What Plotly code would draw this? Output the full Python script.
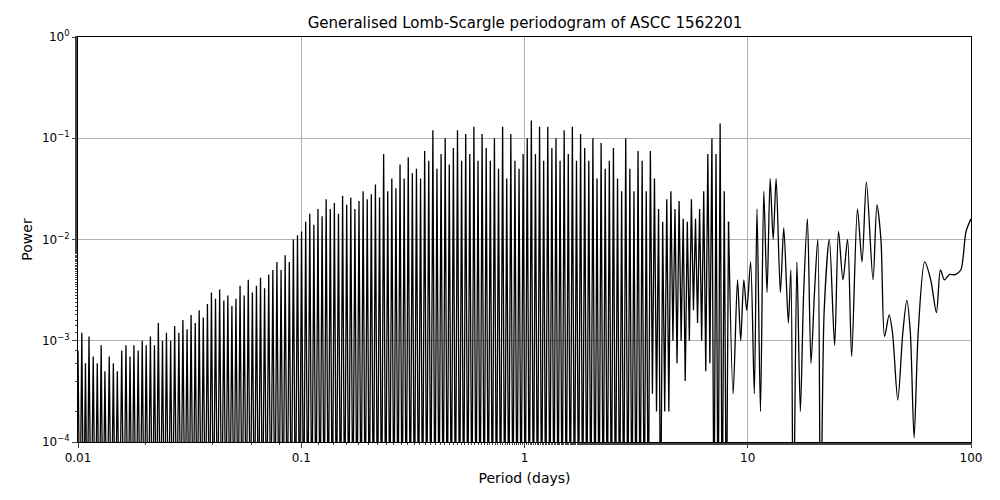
import plotly.graph_objects as go

# dense part: period, local peak, following trough
dense_period = [0.0100, 0.0104, 0.0108, 0.0112, 0.0117, 0.0122, 0.0127, 0.0132, 0.0138, 0.0144,
                0.0150, 0.0157, 0.0164, 0.0171, 0.0178, 0.0186, 0.0194, 0.0202, 0.0211, 0.0220,
                0.0229, 0.0239, 0.0249, 0.0260, 0.0271, 0.0283, 0.0295, 0.0308, 0.0321, 0.0335,
                0.0349, 0.0364, 0.0380, 0.0396, 0.0413, 0.0431, 0.0450, 0.0469, 0.0489, 0.0510,
                0.0532, 0.0555, 0.0579, 0.0604, 0.0630, 0.0657, 0.0685, 0.0715, 0.0746, 0.0778,
                0.0812, 0.0847, 0.0884, 0.0922, 0.0962, 0.1003, 0.1047, 0.1092, 0.1139, 0.1188,
                0.1240, 0.1293, 0.1349, 0.1407, 0.1468, 0.1532, 0.1598, 0.1667, 0.1739, 0.1814,
                0.1893, 0.1975, 0.2060, 0.2149, 0.2242, 0.2339, 0.2440, 0.2545, 0.2655, 0.2770,
                0.2890, 0.3015, 0.3145, 0.3281, 0.3423, 0.3571, 0.3725, 0.3886, 0.4054, 0.4230,
                0.4413, 0.4603, 0.4802, 0.5010, 0.5227, 0.5453, 0.5688, 0.5934, 0.6191, 0.6458,
                0.6737, 0.7029, 0.7332, 0.7649, 0.7980, 0.8325, 0.8685, 0.9060, 0.9452, 0.9860,
                1.0287, 1.0731, 1.1195, 1.1680, 1.2185, 1.2712, 1.3261, 1.3834, 1.4432, 1.5056,
                1.5707, 1.6386, 1.7095, 1.7834, 1.8605, 1.9409, 2.0248, 2.1124, 2.2037, 2.2990,
                2.3984, 2.5021, 2.6103, 2.7231, 2.8409, 2.9637, 3.0919, 3.2256, 3.3650, 3.5105,
                3.6623, 3.8207, 3.9859, 4.1582, 4.3380, 4.5256, 4.7213, 4.9254, 5.1384, 5.3606,
                5.5924, 5.8342, 6.0865, 6.3496, 6.6242, 6.9106, 7.2094, 7.5212, 7.8464, 8.2]
dense_peak = [8e-4, 1.2e-3, 6e-4, 1.1e-3, 7e-4, 6e-4, 9e-4, 5e-4, 7e-4, 6e-4,
              5e-4, 8e-4, 9e-4, 7e-4, 9e-4, 8e-4, 1.0e-3, 9e-4, 1.1e-3, 9e-4,
              1.5e-3, 1.0e-3, 1.2e-3, 1.0e-3, 1.4e-3, 1.2e-3, 1.6e-3, 1.3e-3, 1.8e-3, 1.5e-3,
              2.0e-3, 1.7e-3, 2.3e-3, 3.0e-3, 2.6e-3, 3.2e-3, 2.5e-3, 2.8e-3, 2.2e-3, 2.6e-3,
              3.5e-3, 2.8e-3, 4.0e-3, 3.0e-3, 3.5e-3, 4.2e-3, 3.3e-3, 4.5e-3, 5.0e-3, 6.0e-3,
              5.0e-3, 7.0e-3, 6.0e-3, 1.0e-2, 1.1e-2, 1.2e-2, 1.5e-2, 1.8e-2, 1.4e-2, 2.0e-2,
              1.7e-2, 2.5e-2, 2.0e-2, 2.3e-2, 1.8e-2, 2.7e-2, 2.2e-2, 2.6e-2, 2.0e-2, 2.4e-2,
              3.0e-2, 2.5e-2, 2.8e-2, 3.5e-2, 2.6e-2, 7.0e-2, 3.0e-2, 4.0e-2, 3.2e-2, 5.5e-2,
              4.0e-2, 6.5e-2, 4.5e-2, 5.0e-2, 4.0e-2, 7.5e-2, 6.0e-2, 1.2e-1, 5.0e-2, 7.0e-2,
              1.0e-1, 5.5e-2, 8.0e-2, 1.2e-1, 6.0e-2, 1.1e-1, 7.0e-2, 1.3e-1, 6.0e-2, 1.1e-1,
              8.0e-2, 6.0e-2, 1.0e-1, 5.0e-2, 1.3e-1, 4.0e-2, 1.1e-1, 6.0e-2, 5.0e-2, 7.0e-2,
              1.0e-1, 1.5e-1, 7.0e-2, 1.3e-1, 6.0e-2, 1.3e-1, 8.0e-2, 1.0e-1, 6.0e-2, 1.2e-1,
              7.0e-2, 1.3e-1, 6.0e-2, 1.1e-1, 8.0e-2, 6.0e-2, 1.0e-1, 4.0e-2, 9.0e-2, 5.0e-2,
              6.0e-2, 8.0e-2, 4.0e-2, 3.0e-2, 1.0e-1, 5.0e-2, 3.0e-2, 7.5e-2, 6.0e-2, 3.0e-2,
              7.5e-2, 4.0e-2, 2.0e-2, 1.5e-2, 2.5e-2, 3.0e-2, 2.0e-2, 2.4e-2, 1.6e-2, 1.5e-2,
              2.5e-2, 1.6e-2, 2.0e-2, 3.0e-2, 7.0e-2, 1.0e-1, 7.0e-2, 1.4e-1, 3.0e-2, 1.5e-2]
dense_trough = [1e-5] * 140 + [3e-4, 2e-4, 1e-5, 2e-4, 2e-4, 1e-3, 6e-4, 1e-3, 4e-4, 1e-3,
                               2e-3, 1.5e-3, 1e-3, 5e-4, 6e-4] + [1e-5] * 5

# long-period part, smooth curve
tail_period = [8.6, 9.0, 9.3, 9.6, 9.9, 10.3, 10.7, 11.0, 11.4, 11.8, 12.2, 12.6, 13.0, 13.4,
               14.0, 14.5, 15.2, 15.6, 16.0, 16.6, 17.2, 17.8, 18.5, 19.2, 19.9, 20.6, 21.2,
               22.0, 23.2, 24.5, 25.5, 26.7, 28.0, 29.2, 31.0, 32.5, 34.0, 36.4, 37.9, 39.5,
               41.0, 43.0, 44.5, 47.0, 49.5, 51.6, 53.5, 55.6, 58.0, 62.0, 66.0, 70.0, 73.0,
               76.0, 80.0, 85.0, 90.0, 95.0, 100.0]
tail_power = [3e-4, 4e-3, 1e-3, 4e-3, 2e-3, 6e-3, 3e-4, 2e-2, 2e-4, 3e-2, 3e-3, 4e-2, 1e-2, 4e-2,
              3e-3, 1.3e-2, 1.5e-3, 5e-3, 1e-5, 6e-3, 2e-4, 3e-3, 1.6e-2, 6e-4, 3e-3, 1e-2, 1e-5,
              2e-3, 1e-2, 9e-4, 1.2e-2, 4e-3, 1e-2, 7e-4, 2e-2, 6e-3, 3.7e-2, 4e-3, 2.2e-2, 1e-2,
              1.1e-3, 1.8e-3, 1.2e-3, 2.6e-4, 1.2e-3, 2.5e-3, 1.2e-3, 1.1e-4, 1.2e-3, 6e-3, 4e-3,
              1.9e-3, 5e-3, 4e-3, 4.5e-3, 4.5e-3, 5e-3, 1.2e-2, 1.6e-2]

x, y = [], []
for i in range(len(dense_period)):
    x.append(dense_period[i])
    y.append(dense_peak[i])
    if i + 1 < len(dense_period):
        x.append((dense_period[i] * dense_period[i + 1]) ** 0.5)
        y.append(dense_trough[i])

fig = go.Figure()
fig.add_trace(go.Scatter(x=x, y=y, mode='lines', line=dict(color='black', width=1.3)))
fig.add_trace(go.Scatter(x=[x[-1]] + tail_period, y=[y[-1]] + tail_power, mode='lines',
                         line=dict(color='black', width=1.3, shape='spline', smoothing=0.8)))

axis = dict(type='log', showline=True, linecolor='black', linewidth=1, mirror=True,
            ticks='outside', showgrid=True, gridcolor='#b0b0b0', gridwidth=1, zeroline=False,
            automargin=False, tickfont=dict(size=12, color='black'),
            minor=dict(ticks='outside', ticklen=2, showgrid=False))
# page body has an 8px offset, margins compensate for it
fig.update_layout(
    width=1000, height=500, template='none', showlegend=False,
    plot_bgcolor='white', paper_bgcolor='white',
    font=dict(family='DejaVu Sans', size=12, color='black'),
    margin=dict(l=70, r=37, t=29, b=66),
    title=dict(text='Generalised Lomb-Scargle periodogram of ASCC 1562201',
               x=0.517, xanchor='center', y=0.97, yanchor='middle', font=dict(size=15)),
    xaxis=dict(axis, range=[-2, 2], tickvals=[0.01, 0.1, 1, 10, 100],
               ticktext=['0.01', '0.1', '1', '10', '100'],
               title=dict(text='Period (days)', standoff=8)),
    yaxis=dict(axis, range=[-4, 0], tickvals=[1e-4, 1e-3, 1e-2, 1e-1, 1],
               ticktext=['10<sup>−4</sup>', '10<sup>−3</sup>', '10<sup>−2</sup>',
                         '10<sup>−1</sup>', '10<sup>0</sup>'],
               title=dict(text='Power', standoff=6)),
)
fig.write_html("out.html")
